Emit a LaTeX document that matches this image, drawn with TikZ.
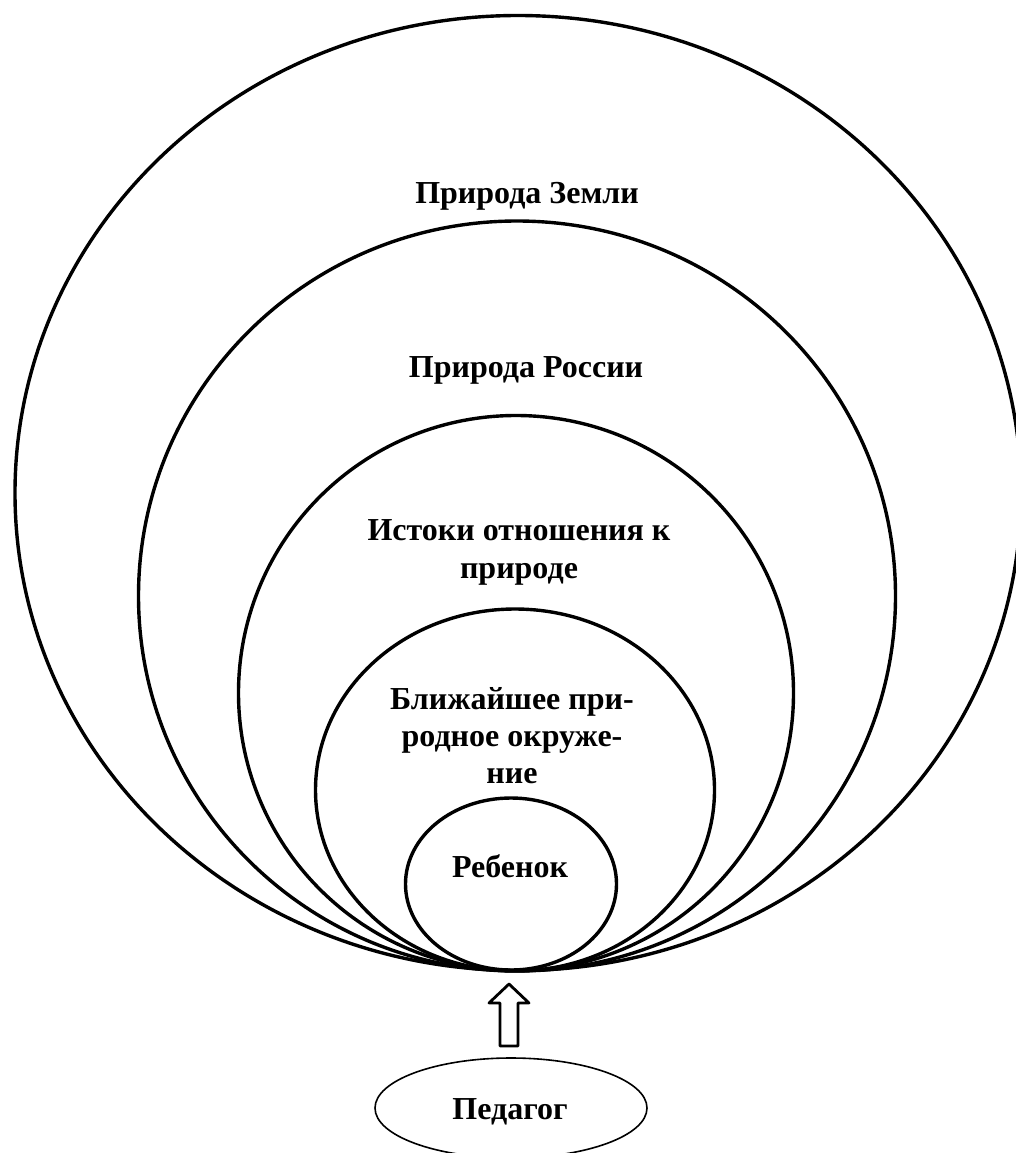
\documentclass[tikz,border=0pt]{standalone}
\usepackage{fontspec}
\setmainfont{Liberation Serif}
\usetikzlibrary{shapes.geometric,calc}
\tikzset{
  ring/.style={draw, ellipse, line width=3.4pt, inner sep=0pt},
  lbl/.style={font=\fontsize{32}{38}\selectfont\bfseries, align=center, inner sep=0pt, anchor=base},
}
\begin{document}
\begin{tikzpicture}[x=1pt,y=-1pt]
\useasboundingbox (0,0) rectangle (1016,1153);
\clip (0,0) rectangle (1016,1153);
\fill[white] (0,0) rectangle (1016,1153);
\node[ring, minimum width=1006pt, minimum height=955pt] (earth) at (518,493) {};
\node[ring, minimum width=757pt, minimum height=750pt] (russia) at (517,596) {};
\node[ring, minimum width=555pt, minimum height=555pt] (istoki) at (516,693) {};
\node[ring, minimum width=399pt, minimum height=362pt] (blizh) at (515,790) {};
\node[ring, minimum width=211pt, minimum height=172pt] (child) at (511,884) {};
\node[draw, ellipse, line width=1.6pt, inner sep=0pt, minimum width=272pt, minimum height=100pt] (ped) at (511,1108) {};
\node[lbl] (tearth) at (527,203) {Природа Земли};
\node[lbl] (trussia) at (526,377) {Природа России};
\node[lbl] (tistoki) at (519,578) {Истоки отношения к\\природе};
\node[lbl, font=\fontsize{32}{37}\selectfont\bfseries] (tblizh) at (512,783) {Ближайшее при-\\родное окруже-\\ние};
\node[lbl] (tchild) at (510,877) {Ребенок};
\node[lbl] (tped) at (510,1119) {Педагог};
\coordinate (tip) at (509,984);
\coordinate (tail) at (509,1046);
\draw[line width=2.8pt, line join=round, fill=white]
  (tip) -- ($(tip)+(20,19)$) -- ($(tip)+(9,19)$) -- ($(tail)+(9,0)$)
  -- ($(tail)+(-9,0)$) -- ($(tip)+(-9,19)$) -- ($(tip)+(-20,19)$) -- cycle;
\end{tikzpicture}
\end{document}
